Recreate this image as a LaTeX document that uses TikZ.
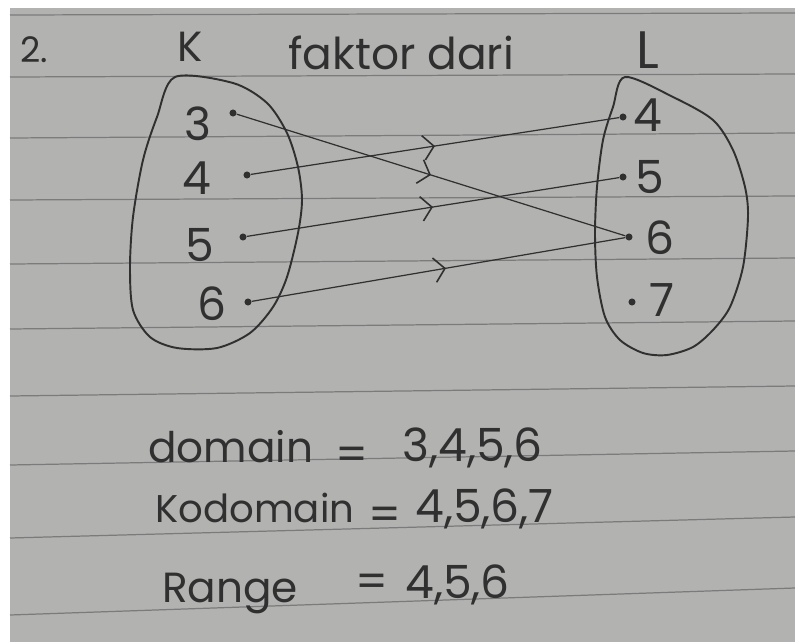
\documentclass[tikz,border=0pt]{standalone}
\usepackage{fontspec}
\setmainfont{Poppins}
\usetikzlibrary{arrows.meta,decorations.markings}
\definecolor{paper}{RGB}{178,179,177}
\definecolor{ink}{RGB}{48,48,48}
\definecolor{rulecol}{RGB}{122,123,122}
\begin{document}
\begin{tikzpicture}[x=0.02cm,y=-0.02cm,
 dot/.style={circle,fill=ink,inner sep=0pt,minimum size=4pt},
 num/.style={text=ink,inner sep=0pt,font=\fontsize{26}{30}\selectfont},
 hw/.style={text=ink,inner sep=0pt,anchor=base west,font=\fontsize{24}{28}\selectfont},
 ruled/.style={draw=rulecol,line width=0.7pt},
 blob/.style={draw=ink,line width=1.1pt},
 mapto/.style={draw=ink,line width=0.7pt,postaction={decorate},
  decoration={markings,mark=at position #1 with {\arrow{Straight Barb[length=6pt,width=14pt,line width=0.9pt]}}}},
 mapto/.default=0.5]
\useasboundingbox (0,0) rectangle (795,642);
\fill[white] (0,0) rectangle (795,642);
\fill[paper] (10,8) rectangle (795,642);
% lines of the paper
\foreach \a/\b in {15/13,77/74,138/133,200/196,264/258,329/321,396/386,465/451,538/517,615/588}
  \draw[ruled] (10,\a) -- (795,\b);
% headings
\node[num,font=\fontsize{20}{24}\selectfont] (nr) at (34,50) {2.};
\node[num,font=\fontsize{24}{28}\selectfont] (setk) at (190,47) {K};
\node[num,font=\fontsize{30}{34}\selectfont] (setl) at (648,50) {L};
\node[hw,font=\fontsize{25}{29}\selectfont] (rel) at (288,70) {faktor dari};
% set K
\draw[blob] plot[smooth cycle] coordinates {(175,77) (233,83) (267,103) (287,133) (298,167) (302,200) (298,233) (287,277) (273,307) (250,333) (217,348) (177,348) (150,337) (133,310) (130,267) (133,217) (143,160) (157,117)};
\node[dot] (k3) at (233,113) {};
\node[dot] (k4) at (247,175) {};
\node[dot] (k5) at (243,237) {};
\node[dot] (k6) at (248,302) {};
\node[num] (k3t) at (198,124) {3};
\node[num] (k4t) at (197,178) {4};
\node[num] (k5t) at (200,245) {5};
\node[num] (k6t) at (212,304) {6};
% set L
\draw[blob] plot[smooth cycle] coordinates {(625,77) (673,97) (713,120) (733,150) (745,187) (748,217) (743,267) (730,307) (713,330) (693,347) (667,355) (643,353) (620,340) (605,317) (597,277) (595,233) (597,187) (603,140) (613,107)};
\node[dot] (l4) at (623,117) {};
\node[dot] (l5) at (623,177) {};
\node[dot] (l6) at (629,237) {};
\node[dot] (l7) at (632,302) {};
\node[num] (l4t) at (648,115) {4};
\node[num] (l5t) at (650,177) {5};
\node[num] (l6t) at (660,238) {6};
\node[num] (l7t) at (662,300) {7};
% relation
\draw[mapto] (k3) -- (l6);
\draw[mapto] (k4) -- (l4);
\draw[mapto] (k5) -- (l5);
\draw[mapto=0.52] (k6) -- (l6);
% domain, kodomain, range
\node[hw] (dom) at (148,462) {domain};
\node[num] (domeq) at (352,459) {=};
\node[hw,font=\fontsize{26}{30}\selectfont] (domv) at (402,461) {3,4,5,6};
\node[hw,font=\fontsize{22}{26}\selectfont] (kod) at (155,522) {Kodomain};
\node[num] (kodeq) at (385,519) {=};
\node[hw,font=\fontsize{26}{30}\selectfont] (kodv) at (415,522) {4,5,6,7};
\node[hw] (ran) at (162,602) {Range};
\node[num] (raneq) at (372,586) {=};
\node[hw,font=\fontsize{26}{30}\selectfont] (ranv) at (405,598) {4,5,6};
\end{tikzpicture}
\end{document}
